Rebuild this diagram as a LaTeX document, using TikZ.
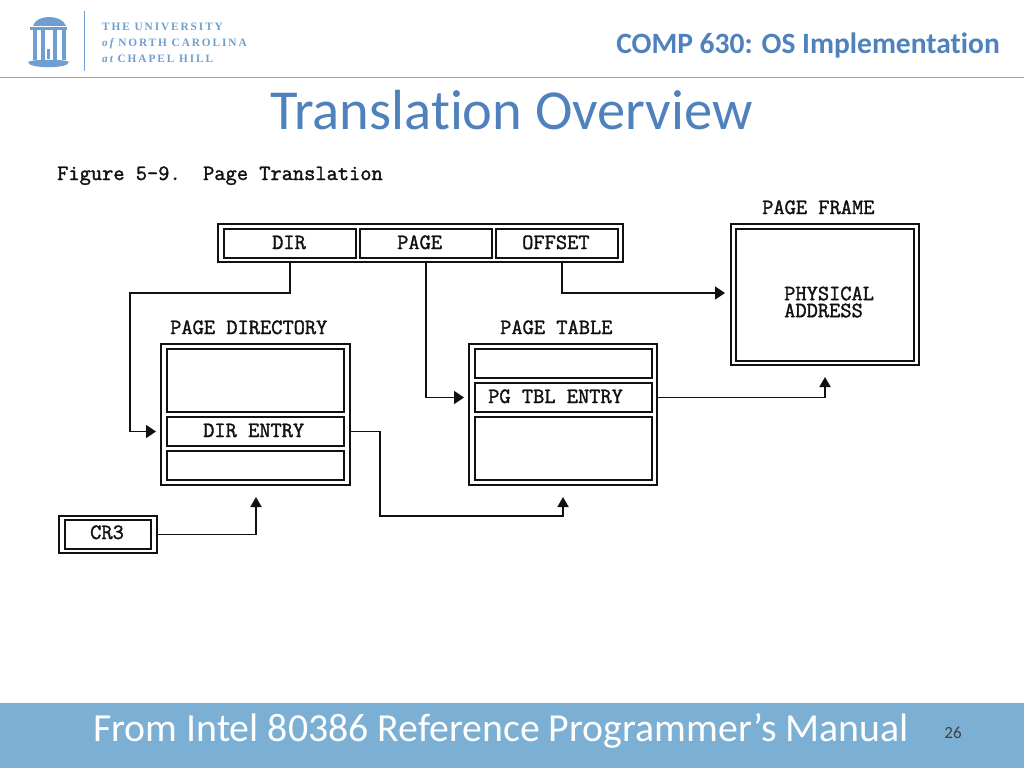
\documentclass[tikz,border=0pt]{standalone}
\usepackage{fontspec}
\setmainfont[Ligatures=NoCommon]{Carlito}
\newfontfamily\logofont[LetterSpace=17]{Liberation Serif}
\newfontfamily\figfont[FakeBold=1.6]{Latin Modern Mono}
\usetikzlibrary{arrows.meta}
\definecolor{unc}{HTML}{7BAFD4}
\definecolor{titleblue}{HTML}{4F81BD}
\definecolor{logoblue}{HTML}{6F9FD0}
\definecolor{figink}{HTML}{111111}
\tikzset{
  frame/.style={draw=figink,line width=1.9pt,inner sep=0pt,fill=white},
  fig/.style={font=\fontsize{21.8pt}{17pt}\selectfont\figfont,text=figink,anchor=base west,inner sep=0pt},
  link/.style={draw=figink,line width=1.8pt,line join=miter},
  arr/.style={link,-{Triangle[length=10pt,width=13pt]}},
  arrup/.style={link,-{Triangle[length=10pt,width=11pt]}},
  logot/.style={font=\fontsize{11.3pt}{11.3pt}\selectfont\logofont\bfseries,text=logoblue,anchor=base west,inner sep=0pt},
}
\newcommand{\bx}[5]{\node[frame,minimum width=#4pt-#2pt,minimum height=#5pt-#3pt] (#1) at ({(#2+#4)/2},{(#3+#5)/2}) {};}
\begin{document}
\begin{tikzpicture}[x=1pt,y=-1pt]
\useasboundingbox (0,0) rectangle (1024,768);
\fill[white] (0,0) rectangle (1024,768);
% logo
\fill[logoblue] (33,26) .. controls (36,14) and (62,14) .. (66,26) -- cycle;
\fill[logoblue] (30,27) rectangle (67,30.5);
\foreach \a/\b in {32.5/37,41/44.5,53/57,62/66} \fill[logoblue] (\a,30.5) rectangle (\b,60);
\fill[logoblue] (47,49) rectangle (50,59);
\fill[logoblue] (28,62) .. controls (32,59) and (65,59) .. (69,62) .. controls (69,69) and (28,69) .. (28,62) -- cycle;
\draw[logoblue,line width=0.8pt] (84.5,11) -- (84.5,71);
\node[logot] (l1) at (102,30.5) {THE UNIVERSITY};
\node[logot] (l2) at (102,46.5) {{\itshape of} NORTH CAROLINA};
\node[logot] (l3) at (102,62.5) {{\itshape at} CHAPEL HILL};
\draw[unc,line width=1.3pt] (0,77.5) -- (1024,77.5);
% headings
\node[anchor=base east,inner sep=0pt,text=titleblue,font=\fontsize{29.5pt}{29.5pt}\selectfont\bfseries] (course) at (1000,53) {COMP 630: OS Implementation};
\node[anchor=base west,inner sep=0pt,text=titleblue,font=\fontsize{56.5pt}{56.5pt}\selectfont] (title) at (270,129) {Translation Overview};
\node[fig] (figcap) at (57,180) {Figure 5-9.\ \ Page Translation};
% footer
\fill[unc] (0,703) rectangle (1024,768);
\node[anchor=base west,inner sep=0pt,text=white,font=\fontsize{39.8pt}{39.8pt}\selectfont] (foot) at (93,741) {From Intel 80386 Reference Programmer’s Manual};
\node[anchor=base,inner sep=0pt,text=black!75,font=\fontsize{17pt}{17pt}\selectfont] (pnum) at (953,738) {26};
% linear address
\bx{la}{218}{224}{623}{262}
\bx{dir}{224}{229}{356}{258}
\bx{pg}{360}{229}{492}{258}
\bx{off}{496}{229}{618}{258}
% page frame
\bx{pf}{731}{224}{919}{365}
\bx{pfi}{736}{229}{914}{361}
% page directory
\bx{pd}{161}{344}{350}{485}
\bx{pda}{167}{349}{344}{412}
\bx{pde}{167}{417}{344}{446}
\bx{pdb}{167}{451}{344}{480}
% page table
\bx{pt}{469}{344}{657}{485}
\bx{pta}{475}{349}{652}{378}
\bx{pte}{475}{383}{652}{412}
\bx{ptb}{475}{417}{652}{480}
% CR3
\bx{cr}{59}{516}{157}{553}
\bx{cri}{65}{520}{151}{549}
% labels
\node[fig] (tdir) at (272,249) {DIR};
\node[fig] (tpage) at (397,249) {PAGE};
\node[fig] (toff) at (522,249) {OFFSET};
\node[fig] (tpf) at (762,214) {PAGE FRAME};
\node[fig,anchor=west,align=left] (tpa) at (784,302) {PHYSICAL\\ADDRESS};
\node[fig] (tpd) at (170,334) {PAGE DIRECTORY};
\node[fig] (tpt) at (500,334) {PAGE TABLE};
\node[fig] (tde) at (203,437) {DIR ENTRY};
\node[fig] (tte) at (488,403) {PG TBL ENTRY};
\node[fig] (tcr) at (90,539) {CR3};
% free ends
\coordinate (pdin) at (156,431.5);
\coordinate (ptin) at (464,397.5);
\coordinate (pfin) at (725,293);
\coordinate (pdup) at (256,497);
\coordinate (ptup) at (563,497);
\coordinate (pfup) at (825,377);
% connectors
\draw[arr] (dir.south |- la.south) -- (dir.south |- pfin) -- (130,293) |- (pdin);
\draw[arr] (pg.south |- la.south) |- (ptin);
\draw[arr] (562,262) |- (pfin);
\draw[arrup] (cr.east) -| (pdup);
\draw[arrup] (pd.east |- pde.east) -| (380,516) -| (ptup);
\draw[arrup] (pt.east |- pte.east) -| (pfup);
\end{tikzpicture}
\end{document}
